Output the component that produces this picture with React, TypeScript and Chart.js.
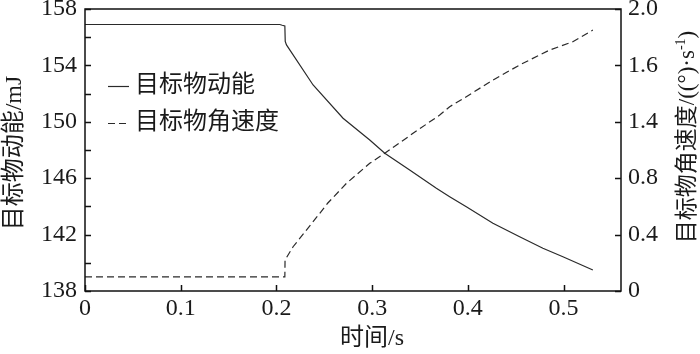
import { useEffect, useRef } from 'react';
import { Chart, registerables } from 'chart.js';

Chart.register(...registerables);

// ---- data ----
const timeKE = [0, 0.1, 0.2035, 0.206, 0.2088, 0.2092, 0.2105, 0.2383, 0.2696, 0.2975, 0.3132, 0.3392, 0.3671, 0.381, 0.3984, 0.4262, 0.4541, 0.4784, 0.4993, 0.5306];
const kineticEnergy = [156.9, 156.9, 156.9, 156.85, 156.8, 155.7, 155.45, 152.61, 150.25, 148.71, 147.77, 146.58, 145.28, 144.69, 143.98, 142.8, 141.85, 141.03, 140.43, 139.49];

const timeAV = [0, 0.1, 0.2088, 0.209, 0.2174, 0.2453, 0.2537, 0.2732, 0.2975, 0.3132, 0.3427, 0.3706, 0.381, 0.3984, 0.4262, 0.4541, 0.4854, 0.5097, 0.5306];
const angularSpeed = [0.1, 0.1, 0.1, 0.22, 0.314, 0.551, 0.624, 0.764, 0.906, 0.977, 1.118, 1.248, 1.307, 1.378, 1.496, 1.603, 1.709, 1.768, 1.851];

const xTickLabels = ['0', '0.1', '0.2', '0.3', '0.4', '0.5'];
const leftTickLabels = ['138', '142', '146', '150', '154', '158'];
const rightTickLabels = ['0', '0.4', '0.8', '1.4', '1.6', '2.0'];
const seriesNames = ['目标物动能', '目标物角速度'];
const xTitle = '时间/s';
const leftTitle = '目标物动能/mJ';
const rightTitleMain = '目标物角速度/((°)·s';
const rightTitleSup = '-1';
const rightTitleEnd = ')';

const FONT_FAMILY = '"Liberation Serif", "Times New Roman", "Noto Sans CJK SC", serif';
const TEXT_COLOR = '#1a1a1a';
const LINE_COLOR = '#2a2a2a';

const decorPlugin = {
  id: 'decor',
  afterDraw(chart: any) {
    const ctx = chart.ctx as CanvasRenderingContext2D;
    const a = chart.chartArea;
    const sx = chart.scales.x;
    const sy = chart.scales.y;
    const sy1 = chart.scales.y1;
    ctx.save();
    ctx.strokeStyle = '#111';
    ctx.lineWidth = 1.5;
    ctx.setLineDash([]);
    ctx.strokeRect(a.left, a.top, a.right - a.left, a.bottom - a.top);
    const len = 6;
    ctx.beginPath();
    sx.ticks.forEach((t: any) => {
      const p = Math.round(sx.getPixelForValue(t.value)) + 0.5;
      ctx.moveTo(p, a.bottom);
      ctx.lineTo(p, a.bottom - len);
    });
    const lt = sy.ticks.map((t: any) => t.value);
    const leftVals: number[] = [];
    for (let i = 0; i < lt.length; i++) {
      leftVals.push(lt[i]);
      if (i < lt.length - 1) leftVals.push((lt[i] + lt[i + 1]) / 2);
    }
    leftVals.forEach((v) => {
      const p = Math.round(sy.getPixelForValue(v)) + 0.5;
      ctx.moveTo(a.left, p);
      ctx.lineTo(a.left + len, p);
    });
    sy1.ticks.forEach((t: any) => {
      const p = Math.round(sy1.getPixelForValue(t.value)) + 0.5;
      ctx.moveTo(a.right, p);
      ctx.lineTo(a.right - len, p);
    });
    ctx.stroke();

    const ds = chart.data.datasets;
    ctx.font = `24px ${FONT_FAMILY}`;
    ctx.fillStyle = TEXT_COLOR;
    ctx.textBaseline = 'middle';
    ctx.textAlign = 'left';
    const rows = [86, 123];
    ds.forEach((d: any, i: number) => {
      ctx.strokeStyle = d.borderColor;
      ctx.lineWidth = d.borderWidth;
      ctx.setLineDash(d.borderDash || []);
      ctx.beginPath();
      ctx.moveTo(108, rows[i] + 0.5);
      ctx.lineTo(129, rows[i] + 0.5);
      ctx.stroke();
      ctx.setLineDash([]);
      ctx.fillText(d.label, 135, rows[i]);
    });

    ctx.textAlign = 'center';
    ctx.fillText(xTitle, 372, 339);

    ctx.save();
    ctx.translate(15, 153);
    ctx.rotate(-Math.PI / 2);
    ctx.fillText(leftTitle, 0, 0);
    ctx.restore();

    ctx.save();
    ctx.translate(688, 137);
    ctx.rotate(-Math.PI / 2);
    const mainFont = `23px ${FONT_FAMILY}`;
    const supFont = `14px ${FONT_FAMILY}`;
    ctx.font = mainFont;
    const w1 = ctx.measureText(rightTitleMain).width;
    const w3 = ctx.measureText(rightTitleEnd).width;
    ctx.font = supFont;
    const w2 = ctx.measureText(rightTitleSup).width;
    const total = w1 + w2 + w3;
    let x = -total / 2;
    ctx.textAlign = 'left';
    ctx.font = mainFont;
    ctx.fillText(rightTitleMain, x, 0);
    x += w1;
    ctx.font = supFont;
    ctx.fillText(rightTitleSup, x, -7);
    x += w2;
    ctx.font = mainFont;
    ctx.fillText(rightTitleEnd, x, 0);
    ctx.restore();

    ctx.restore();
  },
};

export default function App() {
  const ref = useRef<HTMLCanvasElement | null>(null);
  useEffect(() => {
    document.body.style.margin = '0';
    const canvas = ref.current;
    if (!canvas) return;
    let chart: Chart | null = null;
    let cancelled = false;
    const build = () => {
      if (cancelled) return;
      const tickFont = { family: FONT_FAMILY, size: 24 };
      chart = new Chart(canvas, {
        type: 'line',
        data: {
          datasets: [
            {
              label: seriesNames[0],
              data: timeKE.map((t, i) => ({ x: t, y: kineticEnergy[i] })),
              yAxisID: 'y',
              borderColor: LINE_COLOR,
              borderWidth: 1.2,
              pointRadius: 0,
              tension: 0,
              fill: false,
            },
            {
              label: seriesNames[1],
              data: timeAV.map((t, i) => ({ x: t, y: angularSpeed[i] })),
              yAxisID: 'y1',
              borderColor: LINE_COLOR,
              borderWidth: 1.2,
              borderDash: [7, 4],
              pointRadius: 0,
              tension: 0,
              fill: false,
            },
          ],
        },
        options: {
          animation: false,
          responsive: false,
          maintainAspectRatio: false,
          layout: { padding: { top: 9, left: 0, right: 0, bottom: 0 } },
          plugins: { legend: { display: false }, tooltip: { enabled: false } },
          scales: {
            x: {
              type: 'linear',
              min: 0,
              max: 0.56,
              grid: { display: false, drawTicks: false },
              border: { display: false },
              ticks: {
                stepSize: 0.1,
                includeBounds: false,
                autoSkip: false,
                maxRotation: 0,
                padding: 3,
                color: TEXT_COLOR,
                font: tickFont,
                callback: (_v: any, i: number) => xTickLabels[i] ?? '',
              },
              afterFit: (s: any) => {
                s.height = 63;
                s.paddingLeft = 0;
                s.paddingRight = 0;
              },
            },
            y: {
              type: 'linear',
              position: 'left',
              min: 138,
              max: 158,
              grid: { display: false, drawTicks: false },
              border: { display: false },
              ticks: {
                stepSize: 4,
                autoSkip: false,
                padding: 8,
                color: TEXT_COLOR,
                font: tickFont,
                callback: (_v: any, i: number) => leftTickLabels[i] ?? '',
              },
              afterFit: (s: any) => {
                s.width = 85;
                s.paddingTop = 0;
                s.paddingBottom = 0;
              },
            },
            y1: {
              type: 'linear',
              position: 'right',
              min: 0,
              max: 2,
              grid: { display: false, drawTicks: false },
              border: { display: false },
              ticks: {
                stepSize: 0.4,
                autoSkip: false,
                padding: 7,
                color: TEXT_COLOR,
                font: tickFont,
                callback: (_v: any, i: number) => rightTickLabels[i] ?? '',
              },
              afterFit: (s: any) => {
                s.width = 79;
                s.paddingTop = 0;
                s.paddingBottom = 0;
              },
            },
          },
        },
        plugins: [decorPlugin],
      });
    };
    const fonts: any = (document as any).fonts;
    if (fonts && fonts.load) {
      Promise.all([
        fonts.load('24px "Liberation Serif"', '0123456789.'),
        fonts.load('24px "Noto Sans CJK SC"', '目标物动能角速度时间'),
      ])
        .catch(() => null)
        .then(() => build());
    } else {
      build();
    }
    return () => {
      cancelled = true;
      if (chart) chart.destroy();
    };
  }, []);
  return (
    <div style={{ width: 700, height: 354, background: '#fff' }}>
      <span style={{ fontFamily: '"Liberation Serif"', position: 'absolute', left: -9999, top: 0 }}>0.1</span>
      <canvas ref={ref} width={700} height={354} />
    </div>
  );
}
